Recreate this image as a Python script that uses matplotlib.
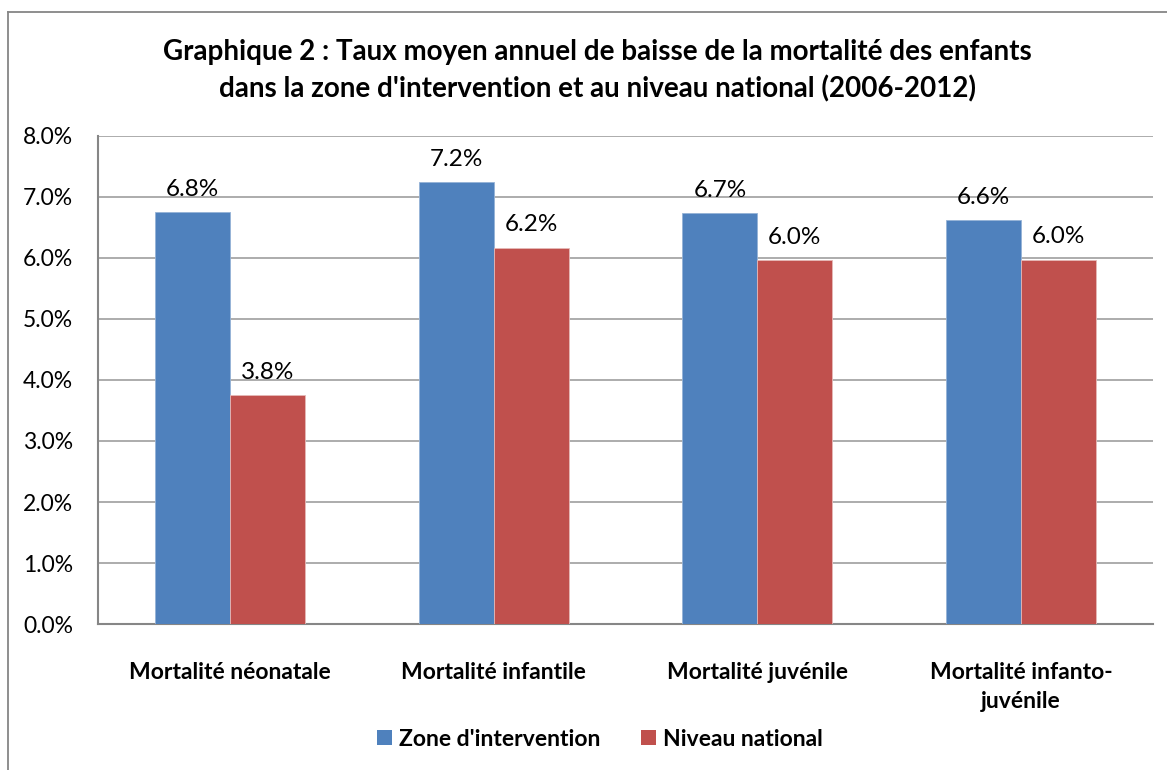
import matplotlib
matplotlib.use('Agg')
import matplotlib.pyplot as plt
from matplotlib.patches import Patch
from matplotlib.lines import Line2D
import numpy as np

# donnees
categories = ["Mortalité néonatale", "Mortalité infantile",
              "Mortalité juvénile", "Mortalité infanto-\njuvénile"]
zone = [6.75, 7.24, 6.73, 6.62]
national = [3.75, 6.17, 5.96, 5.97]
series_noms = ["Zone d'intervention", "Niveau national"]
couleurs = ["#4F81BD", "#C0504D"]
yticks = [0, 1, 2, 3, 4, 5, 6, 7, 8]

plt.rcParams['font.family'] = ['Lato', 'DejaVu Sans']

fig = plt.figure(figsize=(11.67, 7.7), dpi=100)
ax = fig.add_axes([0.084, 0.1896, 0.904, 0.6338])

x = np.arange(len(categories))
w = 0.284
b1 = ax.bar(x - w/2, zone, w, color=couleurs[0], edgecolor='#95B3D7', linewidth=0.6, zorder=3)
b2 = ax.bar(x + w/2, national, w, color=couleurs[1], edgecolor='#E6B9B8', linewidth=0.6, zorder=3)

# etiquettes de donnees
for barres, vals in [(b1, zone), (b2, national)]:
    for r, v in zip(barres, vals):
        ax.annotate(f"{v:.1f}%", (r.get_x() + r.get_width()/2, v),
                    xytext=(0, 9), textcoords='offset points',
                    ha='center', va='bottom', fontsize=17.5, color='#000000')

ax.set_xlim(-0.5, len(categories) - 0.5)
ax.set_ylim(0, 8)
ax.set_yticks(yticks)
ax.set_yticklabels([f"{t:.1f}%" for t in yticks], fontsize=16.5)
ax.set_xticks(x)
ax.set_xticklabels(categories, fontsize=16.5, fontweight='bold', linespacing=1.5)
ax.tick_params(axis='x', length=0, pad=27)
ax.tick_params(axis='y', length=0, pad=18)
ax.grid(axis='y', color='#A6A6A6', linewidth=1.3, zorder=0)
for s in ['top', 'right']:
    ax.spines[s].set_visible(False)
for s in ['left', 'bottom']:
    ax.spines[s].set_color('#868686')
    ax.spines[s].set_linewidth(1.5)

fig.text(0.512, 0.933, "Graphique 2 : Taux moyen annuel de baisse de la mortalité des enfants",
         ha='center', va='center', fontsize=20, fontweight='bold')
fig.text(0.512, 0.885, "dans la zone d'intervention et au niveau national (2006-2012)",
         ha='center', va='center', fontsize=20, fontweight='bold')

handles = [Patch(facecolor=c) for c in couleurs]
fig.legend(handles, series_noms, loc='center', bbox_to_anchor=(0.514, 0.040), ncol=2,
           frameon=False, prop={'weight': 'bold', 'size': 16.5},
           handlelength=0.65, handleheight=0.65, handletextpad=0.3, columnspacing=1.8)

# cadre exterieur
fig.add_artist(Line2D([8/1167, 1], [1 - 12/770, 1 - 12/770], color='#868686', linewidth=1.3))
fig.add_artist(Line2D([8/1167, 8/1167], [0, 1 - 12/770], color='#868686', linewidth=1.3))

fig.savefig('out.png', dpi=100)
